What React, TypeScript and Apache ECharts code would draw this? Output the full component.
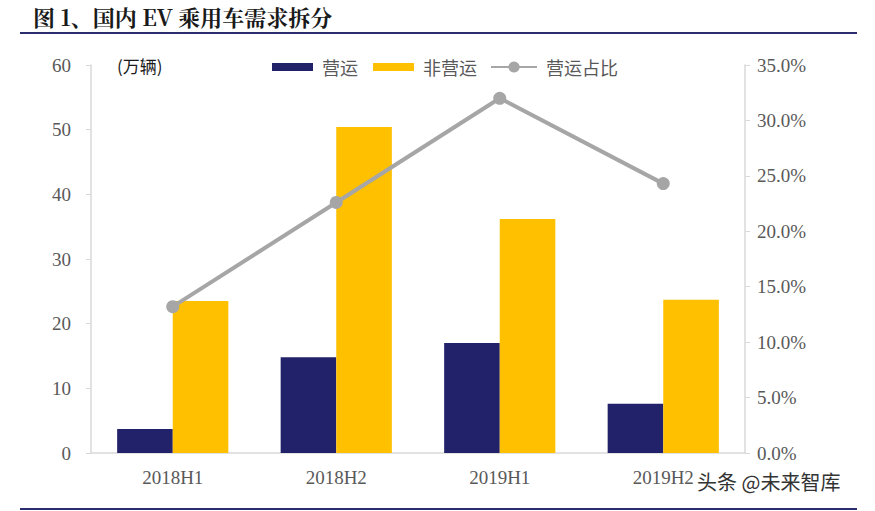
import React, { useEffect, useRef } from "react";
import * as echarts from "echarts";

const categories = ["2018H1", "2018H2", "2019H1", "2019H2"];
const operating = [3.7, 14.8, 17.0, 7.6];
const nonOperating = [23.5, 50.4, 36.2, 23.7];
const operatingShare = [13.2, 22.6, 32.0, 24.3];
const leftTicks = { min: 0, max: 60, interval: 10 };
const rightTicks = { min: 0, max: 35, interval: 5 };

const serif = "'Liberation Serif', 'DejaVu Serif', serif";
const cjk = "'Noto Sans CJK SC', sans-serif";

const legendText = { fontFamily: cjk, fontSize: 18, color: "#595959", padding: [0, 0, 0, 4] };

export default function App() {
  const ref = useRef<HTMLDivElement>(null);
  useEffect(() => {
    if (!ref.current) return;
    const chart = echarts.init(ref.current, undefined, { renderer: "svg" });
    chart.setOption({
      animation: false,
      backgroundColor: "#ffffff",
      grid: { left: 91, right: 130, top: 65, bottom: 58, containLabel: false },
      legend: [
        {
          left: 272,
          top: 58,
          padding: 0,
          textStyle: legendText,
          data: [{ name: "营运", icon: "rect" }],
          itemWidth: 41,
          itemHeight: 8,
        },
        {
          left: 373,
          top: 58,
          padding: 0,
          textStyle: legendText,
          data: [{ name: "非营运", icon: "rect" }],
          itemWidth: 41,
          itemHeight: 8,
        },
        {
          left: 490,
          top: 58,
          padding: 0,
          textStyle: legendText,
          data: [{ name: "营运占比" }],
          itemWidth: 46,
          itemHeight: 14,
        },
      ],
      xAxis: {
        type: "category",
        data: categories,
        axisLine: { lineStyle: { color: "#d9d9d9", width: 1.5 } },
        axisTick: { show: false },
        axisLabel: { fontFamily: serif, fontSize: 19, color: "#595959", margin: 15 },
      },
      yAxis: [
        {
          type: "value",
          ...leftTicks,
          axisLine: { show: true, lineStyle: { color: "#d9d9d9", width: 1.5 } },
          axisTick: { show: true, length: 5, lineStyle: { color: "#d9d9d9" } },
          splitLine: { show: false },
          axisLabel: { fontFamily: serif, fontSize: 19, color: "#595959", margin: 20 },
        },
        {
          type: "value",
          ...rightTicks,
          position: "right",
          axisLine: { show: true, lineStyle: { color: "#d9d9d9", width: 1.5 } },
          axisTick: { show: true, length: 5, lineStyle: { color: "#d9d9d9" } },
          splitLine: { show: false },
          axisLabel: {
            fontFamily: serif,
            fontSize: 19,
            color: "#595959",
            margin: 12,
            formatter: (v: number) => v.toFixed(1) + "%",
          },
        },
      ],
      series: [
        {
          name: "营运",
          type: "bar",
          data: operating,
          barWidth: "34%",
          barGap: "0%",
          itemStyle: { color: "#22226a" },
        },
        {
          name: "非营运",
          type: "bar",
          data: nonOperating,
          barWidth: "34%",
          barGap: "0%",
          itemStyle: { color: "#ffc000" },
        },
        {
          name: "营运占比",
          type: "line",
          yAxisIndex: 1,
          data: operatingShare,
          symbol: "circle",
          symbolSize: 13,
          lineStyle: { color: "#a6a6a6", width: 4 },
          itemStyle: { color: "#a6a6a6" },
        },
      ],
      graphic: [
        {
          type: "text",
          left: 33,
          top: 5,
          style: {
            text: "图 1、国内 EV 乘用车需求拆分",
            font: "bold 22px 'Noto Serif CJK SC', 'Noto Sans CJK SC', serif",
            fill: "#1a1a1a",
          },
        },
        {
          type: "line",
          shape: { x1: 20, y1: 33, x2: 857, y2: 33 },
          style: { stroke: "#2b2d6e", lineWidth: 2 },
        },
        {
          type: "line",
          shape: { x1: 20, y1: 509, x2: 857, y2: 509 },
          style: { stroke: "#2b2d6e", lineWidth: 2 },
        },
        {
          type: "text",
          left: 117,
          top: 57,
          style: {
            text: "(万辆)",
            font: "17px 'Noto Sans CJK SC', sans-serif",
            fill: "#1a1a1a",
          },
        },
        {
          type: "text",
          left: 697,
          top: 471,
          style: {
            text: "头条 @未来智库",
            font: "20px 'Noto Sans CJK SC', sans-serif",
            fill: "#333333",
          },
        },
      ],
    });
    return () => chart.dispose();
  }, []);
  return (
    <div
      ref={ref}
      style={{ position: "absolute", left: 0, top: 0, width: 875, height: 511 }}
    />
  );
}
